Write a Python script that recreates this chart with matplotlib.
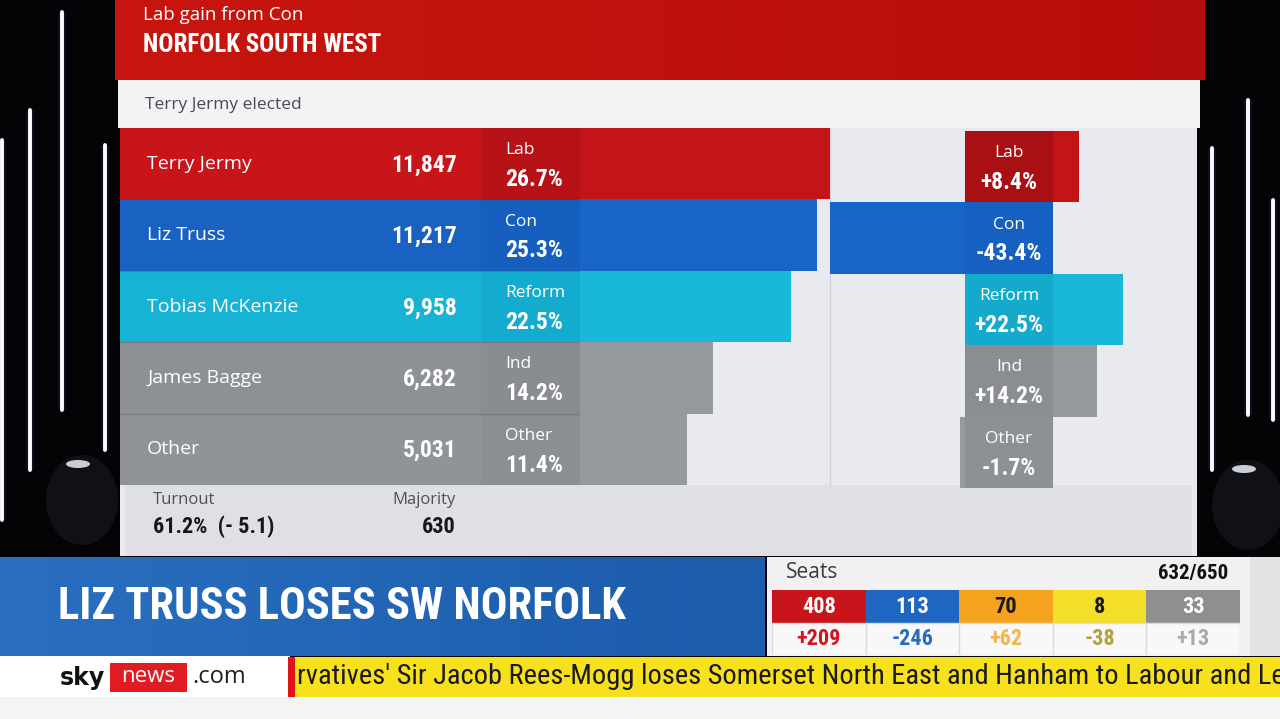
import numpy as np
import matplotlib
matplotlib.use("Agg")
import matplotlib.pyplot as plt
from matplotlib import font_manager as fm
from matplotlib.patches import Rectangle, Ellipse
from matplotlib.colors import LinearSegmentedColormap

# ---------------- data ----------------
result_line = "Lab gain from Con"
constituency = "NORFOLK SOUTH WEST"
elected = "Terry Jermy elected"
candidates = ["Terry Jermy", "Liz Truss", "Tobias McKenzie", "James Bagge", "Other"]
parties = ["Lab", "Con", "Reform", "Ind", "Other"]
votes = [11847, 11217, 9958, 6282, 5031]
shares = [26.7, 25.3, 22.5, 14.2, 11.4]
share_changes = [8.4, -43.4, 22.5, 14.2, -1.7]
turnout = 61.2
turnout_change = -5.1
majority = 630
headline = "LIZ TRUSS LOSES SW NORFOLK"
seat_parties = ["Lab", "Con", "LD", "SNP", "Other"]
seats = [408, 113, 70, 8, 33]
seat_changes = [209, -246, 62, -38, 13]
seats_declared = 632
seats_total = 650
ticker = "rvatives' Sir Jacob Rees-Mogg loses Somerset North East and Hanham to Labour and Le"

# ---------------- styles ----------------
name_cols = ["#c8151a", "#1a62c2", "#17b3d4", "#8d9094", "#909397"]
box_cols = ["#b71217", "#175fbf", "#14acce", "#898c90", "#8b8e92"]
bar_cols = ["#c51418", "#1665c7", "#19b8d8", "#95989c", "#96999d"]
chg_box_cols = ["#aa0f13", "#1560c1", "#14aacb", "#8a8d91", "#8d9094"]
seat_cols = ["#c8151b", "#1f66c2", "#f5a21e", "#f3df2a", "#8f8f8f"]
seat_txt = ["white", "white", "#1a1a1a", "#1a1a1a", "white"]
seat_chg_cols = ["#d0171f", "#2a6bbf", "#f4b648", "#b3a43a", "#a9a9a9"]

avail = {f.name for f in fm.fontManager.ttflist}


def pick(cands, default="DejaVu Sans"):
    for c in cands:
        if c in avail:
            return c
    return default


NARROW = pick(["Liberation Sans Narrow", "Roboto Condensed", "Open Sans Condensed"])
NSTRETCH = "normal" if NARROW != "DejaVu Sans" else "condensed"
SANS = pick(["Open Sans", "Lato", "Noto Sans"])

W, H = 1280, 719
fig = plt.figure(figsize=(12.8, 7.19), dpi=100)
fig.patch.set_facecolor("#040406")
bg = fig.add_axes([0, 0, 1, 1])
bg.set_xlim(0, W)
bg.set_ylim(H, 0)
bg.axis("off")


def px_axes(x0, y0, x1, y1):
    ax = fig.add_axes([x0 / W, 1 - y1 / H, (x1 - x0) / W, (y1 - y0) / H])
    ax.axis("off")
    ax.patch.set_alpha(0)
    return ax


def rect(x0, y0, x1, y1, color, z=1, **kw):
    bg.add_patch(Rectangle((x0, y0), x1 - x0, y1 - y0, facecolor=color,
                           edgecolor="none", zorder=z, **kw))


def grad(x0, y0, x1, y1, c0, c1, z=1):
    cm = LinearSegmentedColormap.from_list("g", [c0, c1])
    bg.imshow(np.linspace(0, 1, 256)[None, :], extent=[x0, x1, y1, y0],
              cmap=cm, aspect="auto", zorder=z, interpolation="bilinear")


def ntext(ax, x, y, s, size, color="white", **kw):
    return ax.text(x, y, s, fontsize=size, color=color, family=NARROW,
                   fontstretch=NSTRETCH, fontweight="bold", **kw)


def stext(ax, x, y, s, size, color="white", **kw):
    return ax.text(x, y, s, fontsize=size, color=color, family=SANS, **kw)


# ---------------- studio background ----------------
lights = [(62, 12, 410), (30, 110, 470), (105, 145, 450), (2, 140, 520),
          (1212, 148, 470), (1248, 100, 415), (1273, 200, 420)]
for x, y0, y1 in lights:
    bg.plot([x, x], [y0, y1], color="#5a74e8", lw=5.5, alpha=0.12, zorder=0.5,
            solid_capstyle="butt")
    bg.plot([x, x], [y0, y1], color="#fbfbff", lw=2.8, zorder=0.6,
            solid_capstyle="round")
for cx, cy in [(82, 500), (1248, 505)]:
    bg.add_patch(Ellipse((cx, cy), 72, 90, facecolor="#111115", edgecolor="none", zorder=0.7))
    bg.add_patch(Ellipse((cx - 4, cy - 36), 24, 8, facecolor="#c9cdd8", edgecolor="none", zorder=0.8))

# ---------------- main panel ----------------
grad(115, 0, 1205, 80, "#c8150f", "#b60e0c")
rect(118, 80, 1200, 128, "#f3f3f6")
rect(120, 128, 1197, 556, "#e9eaef", z=0.9)
rect(125, 485, 1192, 556, "#dfe0e6")
bg.plot([830, 830], [128, 485], color="#d3d4da", lw=1, zorder=1.2)

stext(bg, 143, 15, result_line, 13.5, va="center", zorder=3)
ntext(bg, 143, 45, constituency, 18, va="center", zorder=3)
stext(bg, 145, 105, elected, 12.5, color="#4a4a4f", va="center", zorder=3)

idx = np.arange(len(candidates))
TOP, BOT = 128, 485

# name + label columns (px units horizontally, rows vertically)
ax_rows = px_axes(120, TOP, 580, BOT)
ax_rows.set_xlim(120, 580)
ax_rows.set_ylim(len(idx) - 0.5, -0.5)
ax_rows.barh(idx, 361, left=120, height=1.0, color=name_cols, edgecolor="none")
ax_rows.barh(idx, 99, left=481, height=1.0, color=box_cols, edgecolor="none")
for i in idx:
    stext(ax_rows, 147, i, candidates[i], 14, va="center")
    ntext(ax_rows, 457, i + 0.02, f"{votes[i]:,}", 17, ha="right", va="center")
    stext(ax_rows, 505, i - 0.19, parties[i], 12.5, va="center")
    ntext(ax_rows, 505, i + 0.22, f"{shares[i]:.1f}%", 17, va="center")
for k in range(1, len(idx)):
    ax_rows.axhline(k - 0.5, color="#00000022", lw=1)

# share bars
ax_sh = px_axes(580, TOP, 830, BOT)
ax_sh.set_xlim(0, max(shares))
ax_sh.set_ylim(len(idx) - 0.5, -0.5)
ax_sh.barh(idx, shares, height=1.0, color=bar_cols, edgecolor="none")

# change bars (box of fixed width centred on zero, bars grow from box edge)
CENTER, SCALE, BOXHALF = 1009, 3.1, 44
ax_ch = px_axes(830, TOP + 3, 1195, BOT + 3)
ax_ch.set_xlim((830 - CENTER) / SCALE, (1195 - CENTER) / SCALE)
ax_ch.set_ylim(len(idx) - 0.5, -0.5)
half = BOXHALF / SCALE
chg = np.array(share_changes)
ax_ch.barh(idx, chg, left=np.where(chg > 0, half, -half), height=1.0,
           color=bar_cols, edgecolor="none")
ax_ch.barh(idx, 2 * half, left=-half, height=1.0, color=chg_box_cols, edgecolor="none")
for i in idx:
    stext(ax_ch, 0, i - 0.19, parties[i], 12.5, ha="center", va="center")
    ntext(ax_ch, 0, i + 0.22, f"{chg[i]:+.1f}%", 17, ha="center", va="center")

# footer
stext(bg, 153, 500, "Turnout", 12, color="#505055", va="center", zorder=3)
ntext(bg, 153, 527, f"{turnout:.1f}%  (- {abs(turnout_change):.1f})", 16,
      color="#16161e", va="center", zorder=3)
stext(bg, 456, 500, "Majority", 12, color="#505055", va="center", ha="right", zorder=3)
ntext(bg, 456, 527, f"{majority:,}", 16, color="#16161e", va="center", ha="right", zorder=3)

# ---------------- headline banner ----------------
grad(0, 557, 765, 656, "#2a6fbf", "#1b5cab")
ntext(bg, 58, 607, headline, 32, va="center", zorder=3)

# ---------------- seats panel ----------------
rect(767, 557, 1250, 656, "#f1f1f3")
rect(1250, 557, 1280, 656, "#e3e3e6")
stext(bg, 786, 573, "Seats", 15, color="#3a3a3e", va="center", zorder=3)
ntext(bg, 1228, 573, f"{seats_declared}/{seats_total}", 15, color="#111111",
      va="center", ha="right", zorder=3)
ax_s = px_axes(772, 590, 1240, 655)
ax_s.set_xlim(-0.5, len(seats) - 0.5)
ax_s.set_ylim(2, 0)
sidx = np.arange(len(seats))
ax_s.bar(sidx, 1, bottom=0, width=1.0, color=seat_cols, edgecolor="none")
ax_s.bar(sidx, 1, bottom=1, width=1.0, color="#f8f8f8", edgecolor="#dcdcdc", lw=1)
for i in sidx:
    ntext(ax_s, i, 0.52, f"{seats[i]}", 16, color=seat_txt[i], ha="center", va="center")
    ntext(ax_s, i, 1.52, f"{seat_changes[i]:+d}", 16, color=seat_chg_cols[i],
          ha="center", va="center")

# ---------------- ticker ----------------
rect(0, 656, 290, 697, "#ffffff")
rect(290, 657, 1280, 697, "#f7e01c")
rect(288, 657, 295, 697, "#e0131b", z=2)
rect(0, 697, 1280, 719, "#f4f4f5")
bg.text(60, 678, "sky", fontsize=17, fontweight="bold", color="#111111",
        family="DejaVu Sans", va="center", zorder=3)
rect(110, 663, 187, 692, "#e21a22", z=2)
stext(bg, 148.5, 677, "news", 16, ha="center", va="center", zorder=3)
stext(bg, 192, 677, ".com", 17, color="#1e1e1e", va="center", zorder=3)
bg.text(297, 677, ticker, fontsize=20.5, color="#1a1a1a", family=NARROW,
        va="center", zorder=3, clip_on=True)

bg.set_xlim(0, W)
bg.set_ylim(H, 0)
fig.savefig("out.png", dpi=100, facecolor=fig.get_facecolor())
